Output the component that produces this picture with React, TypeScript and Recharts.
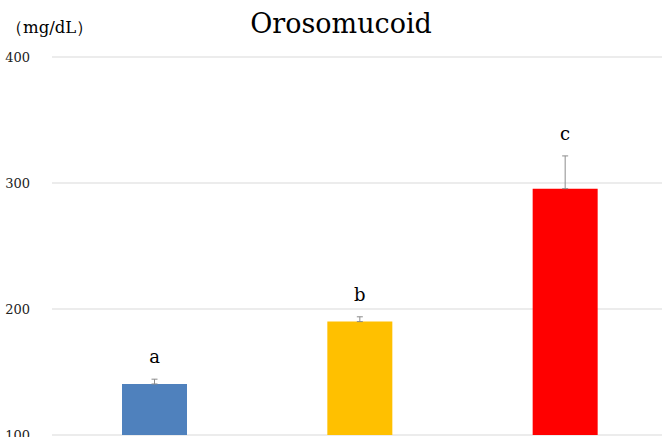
import React from "react";
import { BarChart, Bar, YAxis, XAxis, CartesianGrid, ErrorBar, LabelList, Cell } from "recharts";

const groups = ["g1", "g2", "g3"];
const means = [140.5, 190, 295.5];
const errors = [3.8, 3.8, 26];
const letters = ["a", "b", "c"];
const colors = ["#4f81bd", "#ffc000", "#ff0000"];
const yTicks = [100, 200, 300, 400];

const data = groups.map((g, i) => ({
  group: g,
  mean: means[i],
  err: [0, errors[i]],
  pad: errors[i],
  letter: letters[i],
}));

const font = "'DejaVu Serif', 'Liberation Serif', serif";

export default function App() {
  return (
    <div style={{ position: "absolute", left: 0, top: 0, width: 662, height: 437, overflow: "hidden", background: "#fff", fontFamily: font }}>
      <div style={{ position: "absolute", left: 0, width: 682, top: 8, textAlign: "center", fontSize: 27, color: "#000" }}>
        Orosomucoid
      </div>
      <div style={{ position: "absolute", left: 6, top: 17, fontSize: 16.5, color: "#000" }}>（mg/dL）</div>
      <BarChart width={668} height={437} data={data} margin={{ top: 57, right: 0, bottom: 2, left: 0 }} barCategoryGap="34%">
        <CartesianGrid horizontal vertical={false} stroke="#d9d9d9" />
        <XAxis dataKey="group" hide />
        <YAxis
          domain={[100, 400]}
          allowDataOverflow
          ticks={yTicks}
          interval={0}
          width={52}
          axisLine={false}
          tickLine={false}
          tickMargin={16}
          tick={{ fontSize: 13, fill: "#222", fontFamily: font }}
        />
        <Bar dataKey="mean" stackId="s" barSize={65} isAnimationActive={false}>
          {data.map((d, i) => (
            <Cell key={d.group} fill={colors[i]} />
          ))}
          <ErrorBar dataKey="err" direction="y" width={3} stroke="#8c8c8c" strokeWidth={1} />
        </Bar>
        <Bar dataKey="pad" stackId="s" barSize={65} fill="transparent" isAnimationActive={false}>
          <LabelList dataKey="letter" position="top" offset={16} style={{ fontSize: 18, fill: "#000", fontFamily: font }} />
        </Bar>
      </BarChart>
    </div>
  );
}
